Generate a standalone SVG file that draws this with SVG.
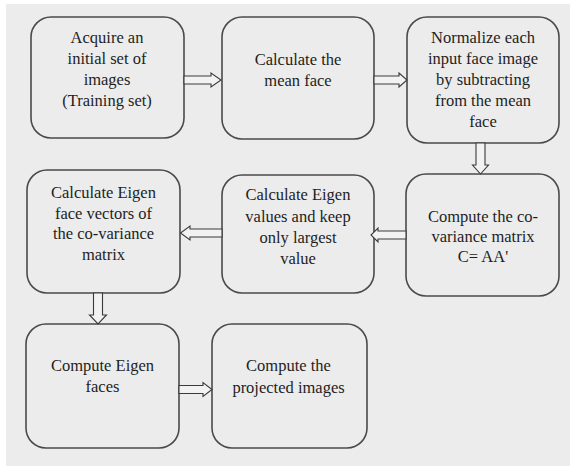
<svg xmlns="http://www.w3.org/2000/svg" width="570" height="466" viewBox="0 0 570 466">
<style>
.box{fill:#ececec;stroke:#4a4a4a;stroke-width:1.6}
.arr{fill:#f2f2f2;stroke:#3a3a3a;stroke-width:1.1;stroke-linejoin:miter}
text{font-family:'Liberation Serif','LiberationSerif','Liberation Serif Regular','Tinos','Times New Roman','Times','Nimbus Roman','FreeSerif','Noto Serif','DejaVu Serif',serif;font-size:16.5px;fill:#1e1e1e;text-anchor:middle}
</style>
<rect x="0" y="0" width="570" height="466" fill="#ffffff"/>
<rect x="6" y="4" width="564" height="462" fill="#ececec"/>
<g id="n1"><rect class="box" x="31" y="17" width="153" height="121" rx="20"/>
<text x="107" y="43">Acquire an</text><text x="107" y="64">initial set of</text><text x="107" y="85">images</text><text x="107" y="106">(Training set)</text></g>
<g id="n2"><rect class="box" x="222" y="17" width="152" height="122" rx="20"/>
<text x="298" y="65">Calculate the</text><text x="298" y="86">mean face</text></g>
<g id="n3"><rect class="box" x="407" y="17" width="152" height="126" rx="20"/>
<text x="483" y="43">Normalize each</text><text x="483" y="64">input face image</text><text x="483" y="85">by subtracting</text><text x="483" y="106">from the mean</text><text x="483" y="127">face</text></g>
<g id="n4"><rect class="box" x="27" y="170" width="153" height="123" rx="20"/>
<text x="103.5" y="198">Calculate Eigen</text><text x="103.5" y="218.5">face vectors of</text><text x="103.5" y="239">the co-variance</text><text x="103.5" y="259.5">matrix</text></g>
<g id="n5"><rect class="box" x="222" y="175" width="152" height="118" rx="20"/>
<text x="298" y="200">Calculate Eigen</text><text x="298" y="221.5">values and keep</text><text x="298" y="242.5">only largest</text><text x="298" y="264">value</text></g>
<g id="n6"><rect class="box" x="406" y="174" width="153" height="122" rx="20"/>
<text x="483" y="222">Compute the co-</text><text x="483" y="241.5">variance matrix</text><text x="483" y="262">C= AA'</text></g>
<g id="n7"><rect class="box" x="26" y="324" width="153" height="124" rx="20"/>
<text x="102.5" y="371">Compute Eigen</text><text x="102.5" y="392">faces</text></g>
<g id="n8"><rect class="box" x="212" y="324" width="155" height="124" rx="20"/>
<text x="288.5" y="371">Compute the</text><text x="288.5" y="393">projected images</text></g>
<g id="connectors">
<path class="arr" d="M184,76 H211 V73 L221,80 L211,87 V84 H184 Z"/>
<path class="arr" d="M374,76 H399 V73 L407,80 L399,87 V84 H374 Z"/>
<path class="arr" d="M476,143 V165 H472.5 L480.5,174 L488.5,165 H485 V143 Z"/>
<path class="arr" d="M406,231 H378 V228 L371,235 L378,242 V239 H406 Z"/>
<path class="arr" d="M222,229 H190 V226 L180.5,233 L190,240 V237 H222 Z"/>
<path class="arr" d="M93.5,293 V315 H89.5 L98,324 L106.5,315 H102.5 V293 Z"/>
<path class="arr" d="M179,385.5 H203 V382.5 L212,389.5 L203,396.5 V393.5 H179 Z"/>
</g>
</svg>
